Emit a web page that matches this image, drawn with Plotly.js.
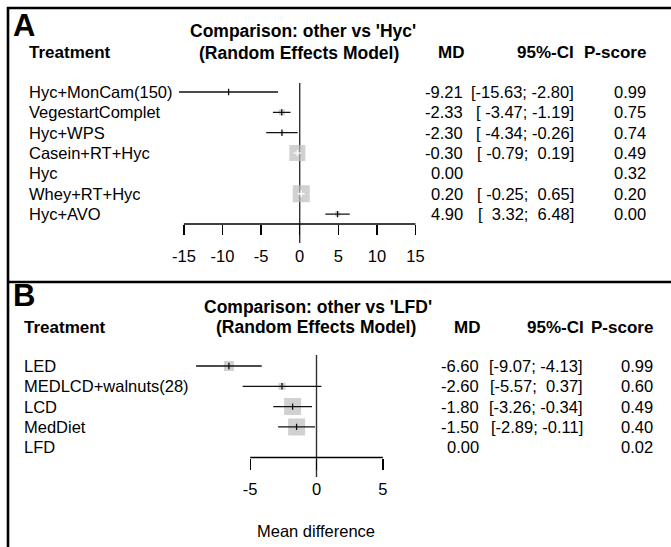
<!DOCTYPE html>
<html><head><meta charset="utf-8">
<script src="https://cdn.plot.ly/plotly-3.0.1.min.js"></script>
<style>html,body{margin:0;padding:0;background:#fff}#chart{width:671px;height:547px}</style>
</head><body><div id="chart"></div>
<script>
// ---------- Panel A data ----------
const treatA = ["Hyc+MonCam(150)","VegestartComplet","Hyc+WPS","Casein+RT+Hyc","Hyc","Whey+RT+Hyc","Hyc+AVO"];
const mdA = [-9.21,-2.33,-2.30,-0.30,0.00,0.20,4.90];
const lowerA = [-15.63,-3.47,-4.34,-0.79,null,-0.25,3.32];
const upperA = [-2.80,-1.19,-0.26,0.19,null,0.65,6.48];
const pscoreA = ["0.99","0.75","0.74","0.49","0.32","0.20","0.00"];
const weightA = [0.5,6,3,16,0,17,5];
const ticksA = [-15,-10,-5,0,5,10,15];
const tickTextA = ["-15","-10","-5","0","5","10","15"];
const titleA = ["Comparison: other vs 'Hyc'","(Random Effects Model)"];

// ---------- Panel B data ----------
const treatB = ["LED","MEDLCD+walnuts(28)","LCD","MedDiet","LFD"];
const mdB = [-6.60,-2.60,-1.80,-1.50,0.00];
const lowerB = [-9.07,-5.57,-3.26,-2.89,null];
const upperB = [-4.13,0.37,-0.34,-0.11,null];
const pscoreB = ["0.99","0.60","0.49","0.40","0.02"];
const weightB = [10,7,17,17,0];
const ticksB = [-5,0,5];
const tickTextB = ["-5","0","5"];
const titleB = ["Comparison: other vs 'LFD'","(Random Effects Model)"];

const colHeads = ["Treatment","MD","95%-CI","P-score"];
const xTitle = "Mean difference";

// ---------- geometry (pixels) ----------
const W = 671, H = 547;
const px = x => x / W, py = y => 1 - y / H;
const FONT = "Liberation Sans, Arial, sans-serif";
const NB = "\u00A0";

const GA = {zero:299.7, ppu:7.72, half:17, row0:92, step:20.35, yTop:80, yBot:245, axisY:224, refTop:83, refBot:243,
  labX:26.5, mdR:465, ciR:576, pR:648, head1:31, head2:52.5, titC1:303, titC2:299, mdHR:466, ciHR:575.5, pHR:648,
  letter:"A", letX:11, letY:25, standoff:7, ticklen:10};
const GB = {zero:316.5, ppu:13.27, half:10, row0:366, step:20.3, yTop:350, yBot:480, axisY:457.5, refTop:355, refBot:477,
  labX:21.5, mdR:481, ciR:585, pR:654.5, head1:306.5, head2:327, titC1:317.5, titC2:315.5, mdHR:481.5, ciHR:586, pHR:655,
  letter:"B", letX:11, letY:295, standoff:6, ticklen:11};

function fmt(v){ return v.toFixed(2); }
function padL(s, n){ while (s.length < n) s = NB + s; return s; }
function ciStrings(lo, hi){
  const ls = lo.map(v => v == null ? null : fmt(v));
  const hs = hi.map(v => v == null ? null : fmt(v));
  const ml = Math.max(...ls.filter(s=>s).map(s=>s.length));
  const mh = Math.max(...hs.filter(s=>s).map(s=>s.length));
  return ls.map((s,i) => s == null ? "" : "[" + padL(s,ml) + ";" + NB + padL(hs[i],mh) + "]");
}

const traces = [], annotations = [], shapes = [];
const layout = {width:W, height:H, margin:{l:0,r:0,t:0,b:0}, paper_bgcolor:"#fff", plot_bgcolor:"rgba(0,0,0,0)",
  showlegend:false, font:{family:FONT, color:"#000", size:16}};

function panel(G, ax, treat, md, lo, hi, ps, wt, ticks, tickText, title, withXTitle){
  const xa = ax === 1 ? "x" : "x2", ya = ax === 1 ? "y" : "y2";
  const xk = ax === 1 ? "xaxis" : "xaxis2", yk = ax === 1 ? "yaxis" : "yaxis2";
  const rows = treat.map((_, i) => i);
  layout[xk] = {domain:[px(G.zero - G.half*G.ppu), px(G.zero + G.half*G.ppu)], range:[-G.half, G.half],
    anchor:"free", position:py(G.axisY), showline:false, showgrid:false, zeroline:false,
    ticks:"outside", ticklen:G.ticklen, tickwidth:1.3, tickcolor:"#000", tickmode:"array",
    tickvals:ticks, ticktext:tickText, tickfont:{family:FONT, size:16.5, color:"#000"},
    ticklabelstandoff:G.standoff, fixedrange:true};
  layout[yk] = {domain:[py(G.yBot), py(G.yTop)], range:[(G.yBot-G.row0)/G.step, (G.yTop-G.row0)/G.step],
    visible:false, showgrid:false, zeroline:false, fixedrange:true, anchor:xa};

  // squares
  const sq = rows.filter(i => wt[i] >= 1);
  traces.push({type:"scatter", mode:"markers", xaxis:xa, yaxis:ya, hoverinfo:"skip",
    x:sq.map(i=>md[i]), y:sq, marker:{symbol:"square", size:sq.map(i=>wt[i]), color:"#bebebe", line:{width:0}}});
  // CI lines
  const ci = rows.filter(i => lo[i] != null);
  const inside = i => (hi[i]-lo[i])*G.ppu < wt[i];
  [false, true].forEach(flag => {
    const xs = [], ys = [];
    ci.filter(i => inside(i) === flag).forEach(i => { xs.push(lo[i], hi[i], null); ys.push(i, i, null); });
    traces.push({type:"scatter", mode:"lines", xaxis:xa, yaxis:ya, hoverinfo:"skip", x:xs, y:ys,
      line:{color: flag ? "#fff" : "#111", width:1.3}});
  });
  // estimate ticks
  traces.push({type:"scatter", mode:"markers", xaxis:xa, yaxis:ya, hoverinfo:"skip",
    x:ci.map(i=>md[i]), y:ci, marker:{symbol:"line-ns", size:4.6, color:"#111",
    line:{width:1.3, color:ci.map(i => inside(i) ? "#fff" : "#111")}}});

  // shapes: axis line and reference line
  shapes.push({type:"line", xref:xa, yref:"paper", x0:ticks[0], x1:ticks[ticks.length-1], y0:py(G.axisY), y1:py(G.axisY),
    line:{color:"#000", width:1.3}});
  shapes.push({type:"line", xref:xa, yref:"paper", x0:0, x1:0, y0:py(G.refTop), y1:py(G.refBot), layer:"below",
    line:{color:"#333", width:1.4}});

  const cis = ciStrings(lo, hi);
  const t = (text, x, y, xanchor) => annotations.push({text, x:px(x), xref:"paper",
    y, yref:ya, xanchor, yanchor:"middle", showarrow:false, font:{family:FONT, size:16.5, color:"#000"}});
  rows.forEach(i => {
    t(treat[i], G.labX, i, "left");
    t(fmt(md[i]), G.mdR, i, "right");
    if (cis[i]) t(cis[i], G.ciR, i, "right");
    t(ps[i], G.pR, i, "right");
  });
  const hd = (text, x, y, xanchor, size=17) => annotations.push({text:"<b>"+text+"</b>", x:px(x), xref:"paper",
    y:py(y), yref:"paper", xanchor, yanchor:"middle", showarrow:false, font:{family:FONT, size, color:"#000"}});
  hd(title[0], G.titC1, G.head1, "center", 17.5);
  hd(title[1], G.titC2, G.head2, "center", 17.5);
  hd(colHeads[0], G.labX, G.head2, "left");
  hd(colHeads[1], G.mdHR, G.head2, "right");
  hd(colHeads[2], G.ciHR, G.head2, "right");
  hd(colHeads[3], G.pHR, G.head2, "right");
  hd(G.letter, G.letX, G.letY, "left", 31);
  if (withXTitle) annotations.push({text:xTitle, x:px(316), xref:"paper", y:py(530.5), yref:"paper",
    xanchor:"center", yanchor:"middle", showarrow:false, font:{family:FONT, size:16.5, color:"#000"}});
}

panel(GA, 1, treatA, mdA, lowerA, upperA, pscoreA, weightA, ticksA, tickTextA, titleA, false);
panel(GB, 2, treatB, mdB, lowerB, upperB, pscoreB, weightB, ticksB, tickTextB, titleB, true);

// frame lines
[[7, 8, 671, 8], [7, 282, 671, 282], [8, 7, 8, 547]].forEach(([x0,y0,x1,y1]) =>
  shapes.push({type:"line", xref:"paper", yref:"paper", x0:px(x0), x1:px(x1), y0:py(y0), y1:py(y1),
    line:{color:"#000", width:2.6}}));

layout.annotations = annotations;
layout.shapes = shapes;
Plotly.newPlot("chart", traces, layout, {staticPlot:true, displayModeBar:false});
</script></body></html>
